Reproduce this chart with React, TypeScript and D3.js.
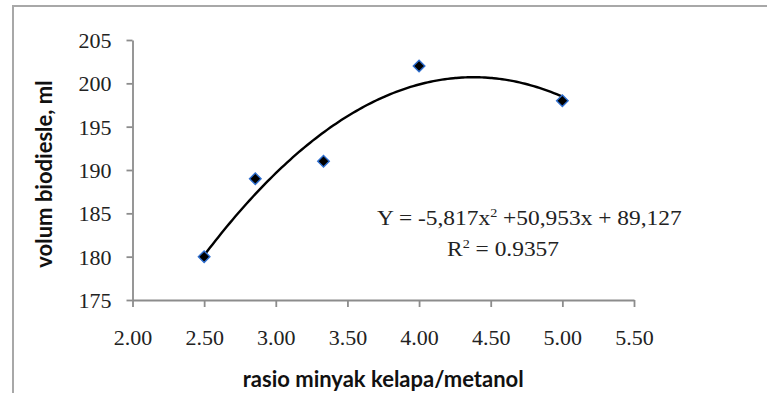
import { useEffect, useRef } from 'react';
import * as d3 from 'd3';

// data
const rasio = [2.5, 2.857, 3.333, 4.0, 5.0];
const volum = [180, 189, 191, 202, 198];
const xTicks = [2.0, 2.5, 3.0, 3.5, 4.0, 4.5, 5.0, 5.5];
const yTicks = [175, 180, 185, 190, 195, 200, 205];
// polynomial trendline coefficients (a, b, c) as printed on the chart
const trendCoef = [-5.817, 50.953, 89.127];

const width = 767;
const height = 393;
const margin = { top: 40, right: 133, bottom: 93, left: 132.5 };

const App = () => {
  const svgRef = useRef(null);

  useEffect(() => {
    const svg = d3.select(svgRef.current);
    svg.selectAll('*').remove();

    const x = d3.scaleLinear().domain([2, 5.5]).range([margin.left, width - margin.right]);
    const y = d3.scaleLinear().domain([175, 205]).range([height - margin.bottom, margin.top]);

    const axisColor = '#8c8c8c';
    const serif = '"Liberation Serif", "Times New Roman", serif';
    const sans = 'Lato, "Open Sans", sans-serif';

    // outer chart frame (only left/top edges visible)
    svg.append('path')
      .attr('d', `M13,${height} L13,6 L${width},6`)
      .attr('fill', 'none')
      .attr('stroke', '#a8a8a8')
      .attr('stroke-width', 2);

    // y axis
    const yAxis = svg.append('g')
      .attr('transform', `translate(${margin.left},0)`)
      .call(d3.axisLeft(y).tickValues(yTicks).tickSize(6).tickPadding(15).tickSizeOuter(0).tickFormat(d3.format('d')));
    yAxis.select('.domain').attr('stroke', axisColor).attr('stroke-width', 1.8);
    yAxis.selectAll('.tick line').attr('stroke', axisColor).attr('stroke-width', 1.8);
    yAxis.selectAll('.tick text')
      .attr('fill', '#222')
      .style('font-family', serif)
      .style('font-size', '22px')
      .attr('dy', '0.34em');

    // x axis
    const xAxis = svg.append('g')
      .attr('transform', `translate(0,${height - margin.bottom})`)
      .call(d3.axisBottom(x).tickValues(xTicks).tickSize(7).tickPadding(22).tickSizeOuter(0).tickFormat(d3.format('.2f')));
    xAxis.select('.domain').attr('stroke', axisColor).attr('stroke-width', 1.8);
    xAxis.selectAll('.tick line').attr('stroke', axisColor).attr('stroke-width', 1.8);
    xAxis.selectAll('.tick text')
      .attr('fill', '#222')
      .style('font-family', serif)
      .style('font-size', '22px');

    // trendline
    const [a, b, c] = trendCoef;
    const xs = d3.range(d3.min(rasio), d3.max(rasio) + 0.001, 0.02);
    const line = d3.line()
      .x(d => x(d))
      .y(d => y(a * d * d + b * d + c))
      .curve(d3.curveMonotoneX);
    svg.append('path')
      .datum(xs)
      .attr('fill', 'none')
      .attr('stroke', '#000')
      .attr('stroke-width', 2.4)
      .attr('d', line);

    // diamond markers
    const diamond = d3.symbol().type(d3.symbolDiamond2).size(85);
    svg.selectAll('.pt')
      .data(rasio.map((r, i) => [r, volum[i]]))
      .enter()
      .append('path')
      .attr('class', 'pt')
      .attr('d', diamond)
      .attr('transform', d => `translate(${x(d[0])},${y(d[1])})`)
      .attr('fill', '#000')
      .attr('stroke', '#2f6fd0')
      .attr('stroke-width', 1.4);

    // equation label (slightly stretched like the original)
    const eq = svg.append('text')
      .attr('transform', 'translate(377,225) scale(1.09,1)')
      .attr('fill', '#222')
      .style('font-family', serif)
      .style('font-size', '21.5px');
    eq.append('tspan').text('Y = -5,817x');
    eq.append('tspan').attr('dy', -8).style('font-size', '13px').text('2');
    eq.append('tspan').attr('dy', 8).text(' +50,953x + 89,127');

    const r2 = svg.append('text')
      .attr('transform', 'translate(447,256) scale(1.09,1)')
      .attr('fill', '#222')
      .style('font-family', serif)
      .style('font-size', '21.5px');
    r2.append('tspan').text('R');
    r2.append('tspan').attr('dy', -8).style('font-size', '13px').text('2');
    r2.append('tspan').attr('dy', 8).text(' = 0.9357');

    // axis titles
    svg.append('text')
      .attr('transform', `translate(52,${(y(175) + y(205)) / 2 + 4}) rotate(-90)`)
      .attr('text-anchor', 'middle')
      .attr('fill', '#111')
      .style('font-family', sans)
      .style('font-weight', 'bold')
      .style('font-size', '22px')
      .text('volum biodiesle, ml');

    svg.append('text')
      .attr('x', (x(2) + x(5.5)) / 2)
      .attr('y', 386.5)
      .attr('text-anchor', 'middle')
      .attr('fill', '#111')
      .style('font-family', sans)
      .style('font-weight', 'bold')
      .style('font-size', '22px')
      .text('rasio minyak kelapa/metanol');
  }, []);

  return (
    <svg
      ref={svgRef}
      width={width}
      height={height}
      style={{ position: 'absolute', left: 0, top: 0, background: '#fff' }}
    />
  );
};

export default App;
